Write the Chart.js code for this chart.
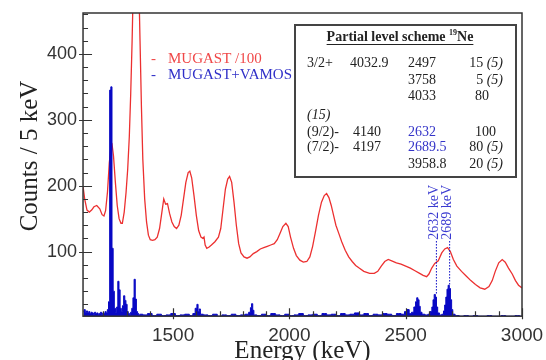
<!DOCTYPE html>
<html>
<head>
<meta charset="utf-8">
<script src="https://cdn.jsdelivr.net/npm/chart.js@4/dist/chart.umd.min.js"></script>
<style>
  html, body { margin: 0; padding: 0; background: #fff; }
  #wrap { width: 546px; height: 360px; }
</style>
</head>
<body>
<div id="wrap"><canvas id="spec" width="546" height="360"></canvas></div>
<script>
// MUGAST /100 (red line), energy in keV and counts
const redEnergy = [
  1113, 1120, 1130, 1140, 1150, 1160, 1172, 1185, 1195, 1203,
  1210, 1218, 1226, 1233, 1238, 1244, 1252, 1260, 1268, 1276,
  1282, 1290, 1298, 1305, 1312, 1318, 1324, 1330, 1338, 1346,
  1352, 1358, 1364, 1370, 1378, 1386, 1394, 1402, 1412, 1422,
  1432, 1442, 1452, 1460, 1468, 1476, 1485, 1495, 1505, 1515,
  1525, 1535, 1545, 1555, 1565, 1572, 1580, 1590, 1600, 1610,
  1620, 1628, 1633, 1638, 1645, 1655, 1665, 1680, 1695, 1705,
  1715, 1725, 1735, 1743, 1752, 1762, 1772, 1782, 1792, 1805,
  1818, 1830, 1845, 1860, 1875, 1890, 1905, 1920, 1935, 1948,
  1960, 1972, 1985, 1995, 2005, 2018, 2030, 2045, 2060, 2075,
  2088, 2100, 2112, 2125, 2138, 2150, 2160, 2170, 2180, 2190,
  2200, 2212, 2225, 2240, 2255, 2270, 2285, 2300, 2320, 2345,
  2365, 2380, 2395, 2410, 2425, 2440, 2460, 2480, 2500, 2520,
  2540, 2560, 2575, 2590, 2600, 2612, 2625, 2640, 2655, 2668,
  2680, 2692, 2705, 2720, 2740, 2760, 2780, 2800, 2820, 2840,
  2858, 2872, 2885, 2900, 2915, 2928, 2942, 2958, 2972, 2985,
  3000
];
const redCounts = [
  199, 180, 163, 160, 163, 168, 170, 165, 156, 154,
  162, 190, 235, 258, 262, 245, 205, 170, 150, 143,
  143, 160, 190, 225, 275, 340, 420, 520, 600, 600,
  520, 420, 320, 240, 180, 145, 125, 118, 117, 118,
  122, 135, 160, 180, 172, 173, 158, 145, 138, 135,
  140, 155, 180, 205, 220, 222, 212, 185, 155, 132,
  122, 120, 122, 110, 105, 107, 110, 115, 122, 135,
  165, 195, 210, 214, 205, 175, 140, 112, 98, 92,
  90, 92, 97, 100, 104, 106, 108, 110, 112, 118,
  128, 138, 143, 138, 122, 105, 94, 87, 84, 85,
  92, 108, 130, 155, 175, 185, 188, 182, 170, 155,
  140, 128, 115, 102, 92, 85, 79, 75, 70, 67,
  67, 70, 78, 85, 88, 86, 83, 81, 78, 75,
  71, 67, 64, 62, 66, 75, 82, 86, 98, 104,
  106, 100, 88, 78, 70, 63, 56, 50, 45, 43,
  47, 56, 70, 83, 88, 84, 75, 66, 56, 49,
  45
];

// MUGAST+VAMOS (blue histogram)
const blueEnergy = [
  1115, 1120, 1125, 1130, 1135, 1140, 1145, 1150, 1155, 1160,
  1165, 1170, 1175, 1180, 1185, 1190, 1195, 1200, 1205, 1210,
  1215, 1220, 1225, 1230, 1235, 1240, 1245, 1250, 1255, 1260,
  1265, 1270, 1275, 1280, 1285, 1290, 1295, 1300, 1305, 1310,
  1315, 1320, 1325, 1330, 1335, 1340, 1345, 1350, 1355, 1360,
  1380, 1400, 1420, 1440, 1460, 1480, 1500, 1520, 1540, 1560,
  1580, 1590, 1600, 1605, 1610, 1615, 1620, 1640, 1660, 1680,
  1700, 1720, 1740, 1760, 1780, 1800, 1820, 1830, 1835, 1840,
  1845, 1850, 1870, 1890, 1910, 1930, 1950, 1970, 1990, 2010,
  2030, 2050, 2070, 2090, 2110, 2130, 2150, 2170, 2190, 2210,
  2230, 2250, 2270, 2290, 2310, 2330, 2350, 2370, 2390, 2410,
  2430, 2450, 2470, 2490, 2500, 2510, 2520, 2530, 2540, 2545,
  2550, 2555, 2560, 2565, 2575, 2590, 2600, 2610, 2615, 2620,
  2625, 2630, 2635, 2640, 2650, 2660, 2665, 2670, 2675, 2680,
  2685, 2690, 2695, 2700, 2705, 2720, 2740, 2760, 2780, 2800,
  2820, 2840, 2860, 2880, 2900, 2920, 2940, 2960, 2980, 3000
];
const blueCounts = [
  9, 12, 8, 10, 7, 9, 6, 8, 7, 5,
  8, 6, 7, 5, 6, 8, 5, 7, 6, 9,
  7, 12, 24, 345, 350, 105, 40, 14, 8, 16,
  55, 42, 14, 9, 18, 33, 26, 20, 9, 6,
  5, 8, 14, 30, 58, 28, 9, 6, 4, 5,
  4, 6, 3, 5, 3, 4, 6, 3, 4, 5,
  3, 6, 14, 20, 9, 13, 5, 4, 3, 5,
  2, 4, 3, 5, 3, 4, 5, 8, 15, 21,
  11, 4, 3, 5, 3, 6, 4, 3, 5, 3,
  4, 6, 3, 4, 5, 3, 6, 4, 5, 3,
  6, 4, 5, 7, 4, 6, 3, 5, 4, 6,
  5, 3, 6, 5, 9, 12, 6, 8, 16, 24,
  30, 27, 17, 8, 5, 4, 5, 9, 16, 27,
  35, 31, 16, 7, 4, 5, 10, 19, 31, 43,
  49, 44, 27, 12, 5, 3, 2, 3, 2, 3,
  2, 2, 3, 2, 2, 3, 2, 2, 3, 2
];

const xLabels = [1500, 2000, 2500, 3000];
const yLabels = [100, 200, 300, 400];
const markerEnergy = [2632, 2689];
const markerText = ['2632 keV', '2689 keV'];
const legendText = ['MUGAST /100', 'MUGAST+VAMOS'];

const tableTitle = 'Partial level scheme ';
const tableRows = [
  ['3/2+', '4032.9', '2497', '15 (5)'],
  ['', '', '3758', '5 (5)'],
  ['', '', '4033', '80'],
  ['(15)', '', '', ''],
  ['(9/2)-', '4140', '2632', '100'],
  ['(7/2)-', '4197', '2689.5', '80 (5)'],
  ['', '', '3958.8', '20 (5)']
];
const blueCells = ['2632', '2689.5'];

const RED = '#ec3030';
const BLUE = '#0808c4';
const SERIF = '"Liberation Serif", "DejaVu Serif", serif';

const toPoints = (xs, ys) => xs.map((x, i) => ({ x: x, y: ys[i] }));

// draw a cell, with "(n)" parts in italic
const drawCell = (ctx, text, x, y, align, color) => {
  const parts = text.split(/(\(\d+\))/).filter(p => p !== '');
  const fonts = parts.map(p => (/^\(\d+\)$/.test(p) ? 'italic ' : '') + '14px ' + SERIF);
  let total = 0;
  parts.forEach((p, i) => { ctx.font = fonts[i]; total += ctx.measureText(p).width; });
  let cx = align === 'right' ? x - total : x;
  ctx.fillStyle = color;
  ctx.textAlign = 'left';
  parts.forEach((p, i) => {
    ctx.font = fonts[i];
    ctx.fillText(p, cx, y);
    cx += ctx.measureText(p).width;
  });
};

const decor = {
  id: 'decor',
  afterDatasetsDraw(chart) {
    const ctx = chart.ctx;
    const a = chart.chartArea;
    const xs = chart.scales.x, ys = chart.scales.y;
    ctx.save();

    // frame
    ctx.strokeStyle = '#333';
    ctx.lineWidth = 1.5;
    ctx.strokeRect(a.left, a.top, a.right - a.left, a.bottom - a.top);

    // ticks, inside the frame
    ctx.lineWidth = 1.2;
    ctx.beginPath();
    for (let v = 20; v < ys.max; v += 20) {
      const py = Math.round(ys.getPixelForValue(v)) + 0.5;
      const major = v % 100 === 0;
      ctx.moveTo(a.left - (major ? 4 : 0), py);
      ctx.lineTo(a.left + (major ? 9 : 5), py);
    }
    for (let e = 1200; e <= xs.max; e += 100) {
      const px = Math.round(xs.getPixelForValue(e)) + 0.5;
      const major = e % 500 === 0;
      ctx.moveTo(px, a.bottom + (major ? 3 : 0));
      ctx.lineTo(px, a.bottom - (major ? 8 : 5));
    }
    ctx.stroke();

    // dotted markers and their labels
    markerEnergy.forEach((e, i) => {
      let peak = 0;
      blueEnergy.forEach((be, j) => { if (Math.abs(be - e) <= 10) peak = Math.max(peak, blueCounts[j]); });
      const px = xs.getPixelForValue(e);
      ctx.strokeStyle = BLUE;
      ctx.lineWidth = 1;
      ctx.setLineDash([1.5, 1.5]);
      ctx.beginPath();
      ctx.moveTo(px, ys.getPixelForValue(116));
      ctx.lineTo(px, ys.getPixelForValue(peak));
      ctx.stroke();
      ctx.setLineDash([]);
      ctx.save();
      ctx.translate(px - 2, ys.getPixelForValue(118));
      ctx.rotate(-Math.PI / 2);
      ctx.fillStyle = '#3a3ad0';
      ctx.font = '14px ' + SERIF;
      ctx.textAlign = 'left';
      ctx.textBaseline = 'middle';
      ctx.fillText(markerText[i], 0, 0);
      ctx.restore();
    });

    // legend
    ctx.font = '15px ' + SERIF;
    ctx.textBaseline = 'alphabetic';
    ctx.textAlign = 'left';
    [RED, '#3030c8'].forEach((c, i) => {
      ctx.fillStyle = i === 0 ? '#f04848' : c;
      ctx.fillText('-', 151, 63 + i * 16);
      ctx.fillText(legendText[i], 168, 63 + i * 16);
    });

    // level scheme box
    ctx.fillStyle = '#fff';
    ctx.fillRect(295, 25, 221, 152);
    ctx.strokeStyle = '#444';
    ctx.lineWidth = 2;
    ctx.strokeRect(295, 25, 221, 152);

    ctx.fillStyle = '#222';
    ctx.font = 'bold 14px ' + SERIF;
    const w1 = ctx.measureText(tableTitle).width;
    ctx.font = 'bold 8px ' + SERIF;
    const w2 = ctx.measureText('19').width;
    ctx.font = 'bold 14px ' + SERIF;
    const w3 = ctx.measureText('Ne').width;
    const tx = 400 - (w1 + w2 + w3) / 2;
    ctx.fillText(tableTitle, tx, 41);
    ctx.font = 'bold 8px ' + SERIF;
    ctx.fillText('19', tx + w1, 35);
    ctx.font = 'bold 14px ' + SERIF;
    ctx.fillText('Ne', tx + w1 + w2, 41);
    ctx.strokeStyle = '#222';
    ctx.lineWidth = 1;
    ctx.beginPath();
    ctx.moveTo(tx, 44.5);
    ctx.lineTo(tx + w1 + w2 + w3, 44.5);
    ctx.stroke();

    const rowY = [67, 84, 100, 119, 136, 151, 168];
    tableRows.forEach((row, r) => {
      const y = rowY[r];
      drawCell(ctx, row[0], 307, y, 'left', '#222');
      drawCell(ctx, row[1], row[0].startsWith('(') ? 353 : 350, y, 'left', '#222');
      drawCell(ctx, row[2], 408, y, 'left', blueCells.includes(row[2]) ? '#3434c8' : '#222');
      if (row[3].includes('(')) drawCell(ctx, row[3], 503, y, 'right', '#222');
      else drawCell(ctx, row[3], 475, y, 'left', '#222');
    });

    // axis titles
    ctx.fillStyle = '#222';
    ctx.font = '25px ' + SERIF;
    ctx.textAlign = 'center';
    ctx.textBaseline = 'alphabetic';
    ctx.fillText('Energy (keV)', (a.left + a.right) / 2, 358);
    ctx.save();
    ctx.translate(37, 156);
    ctx.rotate(-Math.PI / 2);
    ctx.fillText('Counts / 5 keV', 0, 0);
    ctx.restore();

    ctx.restore();
  }
};

new Chart(document.getElementById('spec'), {
  type: 'line',
  data: {
    datasets: [
      {
        label: legendText[1],
        data: toPoints(blueEnergy, blueCounts),
        borderColor: BLUE,
        backgroundColor: BLUE,
        borderWidth: 1,
        stepped: 'middle',
        fill: 'origin',
        pointRadius: 0,
        order: 0
      },
      {
        label: legendText[0],
        data: toPoints(redEnergy, redCounts),
        borderColor: RED,
        borderWidth: 1.3,
        fill: false,
        tension: 0,
        pointRadius: 0,
        order: 1
      }
    ]
  },
  options: {
    responsive: false,
    animation: false,
    events: [],
    layout: { padding: { left: 41, right: 24, top: 13, bottom: 5 } },
    plugins: { legend: { display: false }, tooltip: { enabled: false } },
    scales: {
      x: {
        type: 'linear',
        min: 1113,
        max: 3000,
        grid: { display: false, drawTicks: false },
        border: { display: false },
        afterBuildTicks: s => { s.ticks = xLabels.map(v => ({ value: v })); },
        afterFit: s => { s.paddingLeft = 0; s.paddingRight = 0; },
        ticks: {
          autoSkip: false,
          maxRotation: 0,
          padding: 8,
          color: '#333',
          font: { family: '"Liberation Sans", Arial, sans-serif', size: 19 },
          callback: v => String(v)
        }
      },
      y: {
        min: 2,
        max: 462,
        grid: { display: false, drawTicks: false },
        border: { display: false },
        afterBuildTicks: s => { s.ticks = yLabels.map(v => ({ value: v })); },
        afterFit: s => { s.paddingTop = 0; s.paddingBottom = 0; },
        ticks: {
          autoSkip: false,
          padding: 6,
          color: '#333',
          font: { family: '"Liberation Sans", Arial, sans-serif', size: 18 },
          callback: v => String(v)
        }
      }
    }
  },
  plugins: [decor]
});
</script>
</body>
</html>
